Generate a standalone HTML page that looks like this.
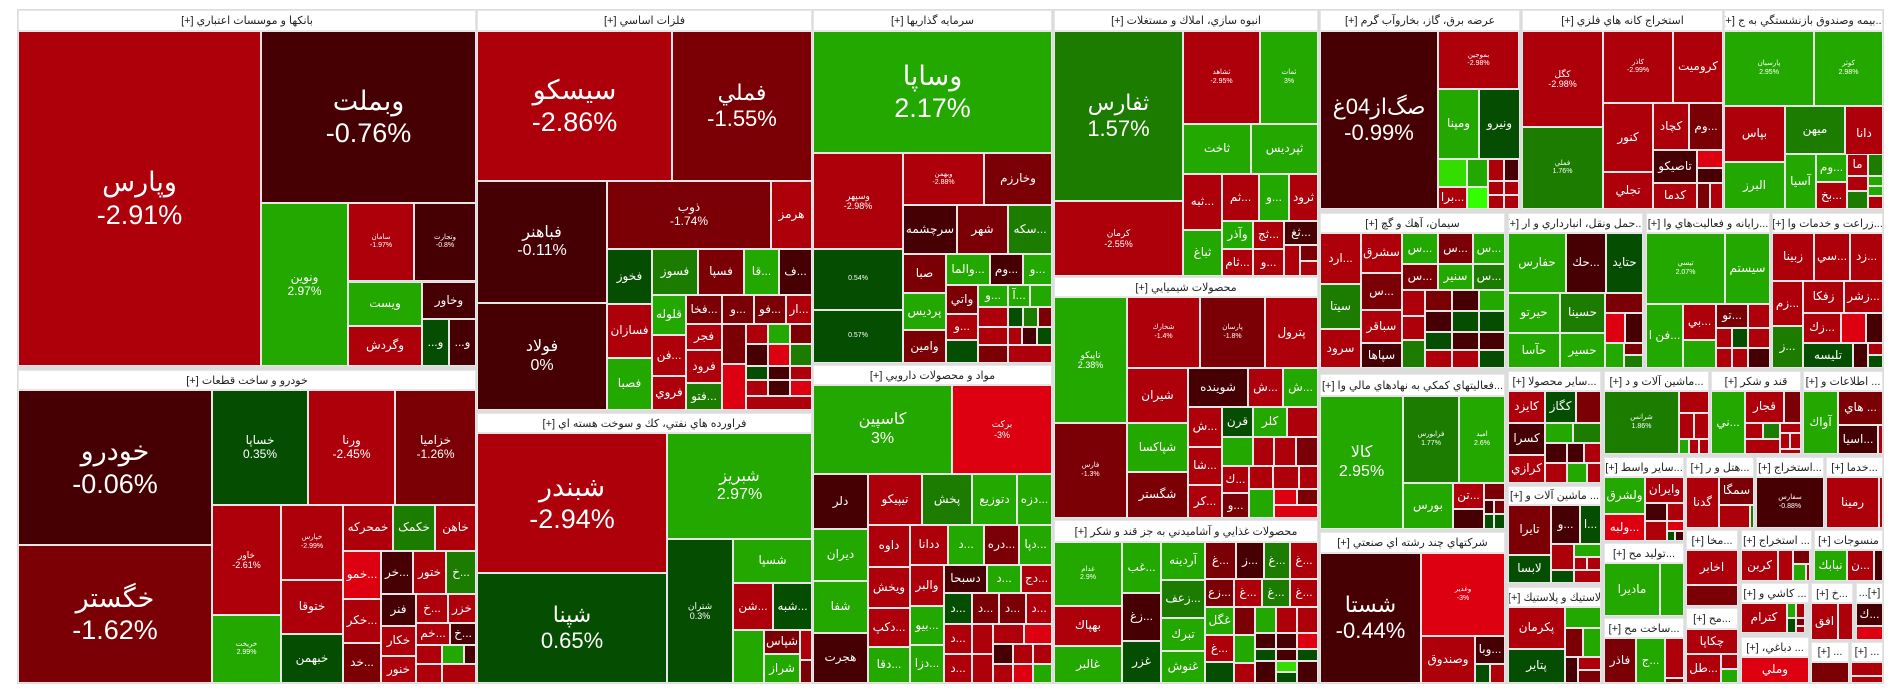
<!DOCTYPE html>
<html><head><meta charset="utf-8">
<style>
html,body{margin:0;padding:0;background:#fff;width:1904px;height:698px;overflow:hidden;font-family:"Liberation Sans","DejaVu Sans",sans-serif}
#w{position:absolute;left:17px;top:9px;width:1867px;height:675px;background:#dcdcdc}
.c{position:absolute;box-sizing:border-box;border:1px solid #e6e6e6;color:#fff;display:flex;flex-direction:column;align-items:center;justify-content:center;text-align:center;overflow:hidden;font-size:12px;line-height:1.15;direction:rtl;white-space:nowrap}
.h{position:absolute;box-sizing:border-box;background:#fff;color:#222;font-size:11px;display:flex;align-items:center;justify-content:center;direction:rtl;white-space:nowrap;overflow:hidden;border:1px solid #e6e6e6}
.r{background:#ad000b}.k{background:#7b0006}.x{background:#460003}.b{background:#dc0010}
.g{background:#23a800}.m{background:#1b7c00}.d{background:#054d00}.l{background:#33dd00}.L{background:#33ff00}
.f1{font-size:27px;line-height:1.2}.f2{font-size:22px;line-height:1.2}.f3{font-size:16px}.f5{font-size:7px}.f6{font-size:9px}
span{direction:ltr;unicode-bidi:isolate}
</style></head><body>
<div id="w"></div>
<!-- Banks -->
<div class="h" style="left:18px;top:10px;width:458px;height:21px">بانکها و موسسات اعتباري [+]</div>
<div class="c r f1" style="left:18px;top:31px;width:243px;height:335px">وپارس<span>-2.91%</span></div>
<div class="c x f1" style="left:261px;top:31px;width:215px;height:172px">وبملت<span>-0.76%</span></div>
<div class="c g" style="left:261px;top:203px;width:87px;height:163px">ونوین<span>2.97%</span></div>
<div class="c r f5" style="left:348px;top:203px;width:66px;height:78px">سامان<span>-1.97%</span></div>
<div class="c x f5" style="left:414px;top:203px;width:62px;height:78px">وتجارت<span>-0.8%</span></div>
<div class="c g" style="left:348px;top:282px;width:74px;height:44px">ویست</div>
<div class="c x" style="left:422px;top:282px;width:54px;height:37px">وخاور</div>
<div class="c r" style="left:348px;top:326px;width:74px;height:40px">وگردش</div>
<div class="c d" style="left:422px;top:319px;width:27px;height:47px">و...</div>
<div class="c x" style="left:449px;top:319px;width:27px;height:47px">و...</div>
<!-- Khodro -->
<div class="h" style="left:18px;top:370px;width:458px;height:20px">خودرو و ساخت قطعات [+]</div>
<div class="c x f1" style="left:18px;top:390px;width:194px;height:155px">خودرو<span>-0.06%</span></div>
<div class="c k f1" style="left:18px;top:545px;width:194px;height:138px">خگستر<span>-1.62%</span></div>
<div class="c d" style="left:212px;top:390px;width:96px;height:115px">خساپا<span>0.35%</span></div>
<div class="c r" style="left:308px;top:390px;width:87px;height:115px">ورنا<span>-2.45%</span></div>
<div class="c k" style="left:395px;top:390px;width:81px;height:115px">خزامیا<span>-1.26%</span></div>
<div class="c r f6" style="left:212px;top:505px;width:69px;height:110px">خاور<span>-2.61%</span></div>
<div class="c g f5" style="left:212px;top:615px;width:69px;height:68px">خریخت<span>2.99%</span></div>
<div class="c r f5" style="left:281px;top:505px;width:62px;height:75px">خپارس<span>-2.99%</span></div>
<div class="c r" style="left:281px;top:580px;width:62px;height:54px">ختوقا</div>
<div class="c d" style="left:281px;top:634px;width:62px;height:49px">خبهمن</div>
<div class="c r" style="left:343px;top:505px;width:50px;height:46px">خمحرکه</div>
<div class="c m" style="left:393px;top:505px;width:42px;height:46px">خکمک</div>
<div class="c r" style="left:435px;top:505px;width:41px;height:46px">خاهن</div>
<div class="c b" style="left:343px;top:551px;width:38px;height:48px">...خمو</div>
<div class="c x" style="left:381px;top:551px;width:32px;height:43px">...خر</div>
<div class="c r" style="left:413px;top:551px;width:33px;height:43px">ختور</div>
<div class="c m" style="left:446px;top:551px;width:30px;height:43px">...خ</div>
<div class="c r" style="left:343px;top:599px;width:38px;height:44px">...خکر</div>
<div class="c k" style="left:343px;top:643px;width:38px;height:40px">...خد</div>
<div class="c x" style="left:381px;top:594px;width:35px;height:32px">فنر</div>
<div class="c r" style="left:416px;top:594px;width:32px;height:29px">...خ</div>
<div class="c r" style="left:448px;top:594px;width:28px;height:29px">خزر</div>
<div class="c r" style="left:381px;top:626px;width:35px;height:30px">خکار</div>
<div class="c r" style="left:416px;top:623px;width:34px;height:22px">...خم</div>
<div class="c x" style="left:450px;top:623px;width:26px;height:22px">...خ</div>
<div class="c r" style="left:381px;top:656px;width:35px;height:27px">خنور</div>
<div class="c r" style="left:416px;top:645px;width:26px;height:19px"></div>
<div class="c g" style="left:442px;top:645px;width:22px;height:19px"></div>
<div class="c x" style="left:464px;top:645px;width:12px;height:19px"></div>
<div class="c r" style="left:416px;top:664px;width:26px;height:19px"></div>
<div class="c r" style="left:442px;top:664px;width:34px;height:19px"></div>
<!-- Metals -->
<div class="h" style="left:477px;top:10px;width:335px;height:21px">فلزات اساسي [+]</div>
<div class="c r f1" style="left:477px;top:31px;width:195px;height:150px">سیسکو<span>-2.86%</span></div>
<div class="c k f2" style="left:672px;top:31px;width:140px;height:150px">فملي<span>-1.55%</span></div>
<div class="c x f3" style="left:477px;top:181px;width:130px;height:122px">فباهنر<span>-0.11%</span></div>
<div class="c x f3" style="left:477px;top:303px;width:130px;height:107px">فولاد<span>0%</span></div>
<div class="c k" style="left:607px;top:181px;width:164px;height:68px">ذوب<span>-1.74%</span></div>
<div class="c r" style="left:771px;top:181px;width:41px;height:68px">هرمز</div>
<div class="c d" style="left:607px;top:249px;width:45px;height:55px">فخوز</div>
<div class="c m" style="left:652px;top:249px;width:46px;height:46px">فسوز</div>
<div class="c k" style="left:698px;top:249px;width:46px;height:46px">فسپا</div>
<div class="c g" style="left:744px;top:249px;width:35px;height:46px">...قا</div>
<div class="c x" style="left:779px;top:249px;width:33px;height:46px">...ف</div>
<div class="c r" style="left:607px;top:304px;width:45px;height:54px">فسازان</div>
<div class="c g" style="left:607px;top:358px;width:45px;height:52px">فصبا</div>
<div class="c g" style="left:652px;top:295px;width:34px;height:40px">قلوله</div>
<div class="c k" style="left:686px;top:295px;width:36px;height:29px">...فخا</div>
<div class="c k" style="left:722px;top:295px;width:32px;height:29px">...و</div>
<div class="c k" style="left:754px;top:295px;width:32px;height:29px">...فو</div>
<div class="c r" style="left:786px;top:295px;width:26px;height:29px">...ار</div>
<div class="c r" style="left:652px;top:335px;width:34px;height:41px">...فن</div>
<div class="c r" style="left:652px;top:376px;width:34px;height:34px">فروي</div>
<div class="c r" style="left:686px;top:324px;width:36px;height:26px">فجر</div>
<div class="c r" style="left:686px;top:350px;width:36px;height:33px">فرود</div>
<div class="c m" style="left:686px;top:383px;width:36px;height:27px">...فتو</div>
<div class="c k" style="left:722px;top:324px;width:24px;height:40px"></div>
<div class="c r" style="left:746px;top:324px;width:22px;height:20px"></div>
<div class="c g" style="left:768px;top:324px;width:22px;height:20px"></div>
<div class="c k" style="left:790px;top:324px;width:22px;height:20px"></div>
<div class="c x" style="left:746px;top:344px;width:22px;height:22px"></div>
<div class="c b" style="left:768px;top:344px;width:22px;height:22px"></div>
<div class="c m" style="left:790px;top:344px;width:22px;height:22px"></div>
<div class="c b" style="left:722px;top:364px;width:24px;height:46px"></div>
<div class="c d" style="left:746px;top:366px;width:22px;height:14px"></div>
<div class="c x" style="left:768px;top:366px;width:22px;height:14px"></div>
<div class="c r" style="left:790px;top:366px;width:22px;height:14px"></div>
<div class="c r" style="left:746px;top:380px;width:22px;height:16px"></div>
<div class="c x" style="left:768px;top:380px;width:22px;height:16px"></div>
<div class="c b" style="left:790px;top:380px;width:22px;height:16px"></div>
<div class="c r" style="left:746px;top:396px;width:66px;height:14px"></div>
<!-- Oil -->
<div class="h" style="left:477px;top:413px;width:335px;height:20px">فراورده هاي نفتي، كك و سوخت هسته اي [+]</div>
<div class="c r f1" style="left:477px;top:433px;width:190px;height:140px">شبندر<span>-2.94%</span></div>
<div class="c d f2" style="left:477px;top:573px;width:190px;height:110px">شپنا<span>0.65%</span></div>
<div class="c g f3" style="left:667px;top:433px;width:145px;height:106px">شبريز<span>2.97%</span></div>
<div class="c d f6" style="left:667px;top:539px;width:66px;height:144px">شتران<span>0.3%</span></div>
<div class="c g" style="left:733px;top:539px;width:79px;height:44px">شسپا</div>
<div class="c r" style="left:733px;top:583px;width:40px;height:47px">...شن</div>
<div class="c d" style="left:773px;top:583px;width:39px;height:47px">...شبه</div>
<div class="c g" style="left:733px;top:630px;width:31px;height:53px"></div>
<div class="c k" style="left:764px;top:630px;width:36px;height:24px">شپاس</div>
<div class="c g" style="left:764px;top:654px;width:36px;height:29px">شراز</div>
<div class="c r" style="left:800px;top:630px;width:12px;height:30px"></div>
<div class="c k" style="left:800px;top:660px;width:12px;height:23px"></div>
<!-- Investments -->
<div class="h" style="left:813px;top:10px;width:239px;height:21px">سرمايه گذاريها [+]</div>
<div class="c g f1" style="left:813px;top:31px;width:239px;height:122px">وساپا<span>2.17%</span></div>
<div class="c r f6" style="left:813px;top:153px;width:90px;height:96px">وسپهر<span>-2.98%</span></div>
<div class="c r f5" style="left:903px;top:153px;width:81px;height:52px">وبهمن<span>-2.88%</span></div>
<div class="c k" style="left:984px;top:153px;width:68px;height:52px">وخارزم</div>
<div class="c x" style="left:903px;top:205px;width:54px;height:49px">سرچشمه</div>
<div class="c k" style="left:957px;top:205px;width:51px;height:49px">شهر</div>
<div class="c m" style="left:1008px;top:205px;width:44px;height:49px">...سكه</div>
<div class="c d f5" style="left:813px;top:249px;width:90px;height:61px">0.54%</div>
<div class="c d f5" style="left:813px;top:310px;width:90px;height:53px">0.57%</div>
<div class="c k" style="left:903px;top:254px;width:43px;height:39px">صبا</div>
<div class="c g" style="left:946px;top:254px;width:44px;height:31px">...والما</div>
<div class="c x" style="left:990px;top:254px;width:33px;height:31px">...وم</div>
<div class="c g" style="left:1023px;top:254px;width:29px;height:31px">...و</div>
<div class="c g" style="left:903px;top:293px;width:43px;height:37px">پرديس</div>
<div class="c k" style="left:946px;top:285px;width:32px;height:29px">واتي</div>
<div class="c g" style="left:978px;top:285px;width:30px;height:22px">...و</div>
<div class="c g" style="left:1008px;top:285px;width:22px;height:22px">...آ</div>
<div class="c g" style="left:1030px;top:285px;width:22px;height:22px"></div>
<div class="c r" style="left:946px;top:314px;width:32px;height:26px">...و</div>
<div class="c k" style="left:903px;top:330px;width:43px;height:33px">وامين</div>
<div class="c r" style="left:978px;top:307px;width:30px;height:20px"></div>
<div class="c d" style="left:1008px;top:307px;width:15px;height:20px"></div>
<div class="c m" style="left:1023px;top:307px;width:15px;height:20px"></div>
<div class="c k" style="left:1038px;top:307px;width:14px;height:20px"></div>
<div class="c r" style="left:978px;top:327px;width:30px;height:18px"></div>
<div class="c r" style="left:1008px;top:327px;width:14px;height:18px"></div>
<div class="c x" style="left:1022px;top:327px;width:15px;height:18px"></div>
<div class="c d" style="left:1037px;top:327px;width:15px;height:18px"></div>
<div class="c d" style="left:946px;top:340px;width:32px;height:23px"></div>
<div class="c k" style="left:978px;top:345px;width:30px;height:18px"></div>
<div class="c r" style="left:1008px;top:345px;width:44px;height:18px"></div>
<!-- Pharma -->
<div class="h" style="left:813px;top:365px;width:239px;height:20px">مواد و محصولات دارويي [+]</div>
<div class="c g f3" style="left:813px;top:385px;width:139px;height:89px">كاسپين<span>3%</span></div>
<div class="c b f6" style="left:952px;top:385px;width:100px;height:89px">بركت<span>-3%</span></div>
<div class="c x" style="left:813px;top:474px;width:55px;height:55px">دلر</div>
<div class="c r" style="left:868px;top:474px;width:54px;height:51px">تيپيكو</div>
<div class="c m" style="left:922px;top:474px;width:50px;height:51px">پخش</div>
<div class="c g" style="left:972px;top:474px;width:45px;height:51px">دتوزيع</div>
<div class="c g" style="left:1017px;top:474px;width:35px;height:51px">...دزه</div>
<div class="c g" style="left:813px;top:529px;width:55px;height:52px">ديران</div>
<div class="c g" style="left:813px;top:581px;width:55px;height:52px">شفا</div>
<div class="c x" style="left:813px;top:633px;width:55px;height:50px">هجرت</div>
<div class="c r" style="left:868px;top:525px;width:42px;height:42px">داوه</div>
<div class="c r" style="left:910px;top:525px;width:38px;height:40px">ددانا</div>
<div class="c g" style="left:948px;top:525px;width:36px;height:40px">...د</div>
<div class="c k" style="left:984px;top:525px;width:35px;height:40px">...دره</div>
<div class="c g" style="left:1019px;top:525px;width:33px;height:40px">...دپا</div>
<div class="c r" style="left:868px;top:567px;width:42px;height:41px">ويخش</div>
<div class="c r" style="left:910px;top:565px;width:34px;height:41px">والبر</div>
<div class="c x" style="left:944px;top:565px;width:43px;height:28px">دسبحا</div>
<div class="c g" style="left:987px;top:565px;width:34px;height:28px">...د</div>
<div class="c r" style="left:1021px;top:565px;width:31px;height:28px">...دج</div>
<div class="c r" style="left:868px;top:608px;width:42px;height:39px">...دكپ</div>
<div class="c g" style="left:910px;top:606px;width:34px;height:39px">...بيو</div>
<div class="c g" style="left:868px;top:647px;width:42px;height:36px">...دقا</div>
<div class="c g" style="left:910px;top:645px;width:34px;height:38px">...دزا</div>
<div class="c d" style="left:944px;top:593px;width:28px;height:31px">...د</div>
<div class="c k" style="left:972px;top:593px;width:27px;height:31px">...د</div>
<div class="c k" style="left:999px;top:593px;width:27px;height:31px">...د</div>
<div class="c r" style="left:1026px;top:593px;width:26px;height:31px">...د</div>
<div class="c r" style="left:944px;top:624px;width:28px;height:30px">...د</div>
<div class="c r" style="left:944px;top:654px;width:28px;height:29px">...د</div>
<div class="c r" style="left:972px;top:624px;width:21px;height:30px"></div>
<div class="c r" style="left:993px;top:624px;width:31px;height:20px"></div>
<div class="c b" style="left:1024px;top:624px;width:28px;height:20px"></div>
<div class="c r" style="left:972px;top:654px;width:21px;height:29px"></div>
<div class="c x" style="left:993px;top:644px;width:20px;height:20px"></div>
<div class="c r" style="left:1013px;top:644px;width:20px;height:20px"></div>
<div class="c r" style="left:1033px;top:644px;width:19px;height:20px"></div>
<div class="c r" style="left:993px;top:664px;width:20px;height:19px"></div>
<div class="c b" style="left:1013px;top:664px;width:20px;height:19px"></div>
<div class="c g" style="left:1033px;top:664px;width:19px;height:19px"></div>
<!-- Construction -->
<div class="h" style="left:1054px;top:10px;width:264px;height:21px">انبوه سازي، املاك و مستغلات [+]</div>
<div class="c m f2" style="left:1054px;top:31px;width:129px;height:170px">ثفارس<span>1.57%</span></div>
<div class="c r f5" style="left:1183px;top:31px;width:77px;height:93px">ثشاهد<span>-2.95%</span></div>
<div class="c g f5" style="left:1260px;top:31px;width:58px;height:93px">ثمات<span>3%</span></div>
<div class="c g" style="left:1183px;top:124px;width:68px;height:50px">ثاخت</div>
<div class="c g" style="left:1251px;top:124px;width:67px;height:50px">ثپرديس</div>
<div class="c r f6" style="left:1054px;top:201px;width:129px;height:75px">كرمان<span>-2.55%</span></div>
<div class="c r" style="left:1183px;top:174px;width:39px;height:56px">...ثبه</div>
<div class="c r" style="left:1222px;top:174px;width:37px;height:47px">...ثم</div>
<div class="c g" style="left:1259px;top:174px;width:30px;height:47px">...و</div>
<div class="c r" style="left:1289px;top:174px;width:29px;height:47px">ثرود</div>
<div class="c g" style="left:1183px;top:230px;width:39px;height:46px">ثباغ</div>
<div class="c g" style="left:1222px;top:221px;width:31px;height:28px">وآذر</div>
<div class="c r" style="left:1253px;top:221px;width:31px;height:28px">...ثج</div>
<div class="c x" style="left:1284px;top:221px;width:34px;height:24px">...ثغ</div>
<div class="c r" style="left:1222px;top:249px;width:31px;height:27px">...ثام</div>
<div class="c r" style="left:1253px;top:249px;width:31px;height:27px">...و</div>
<div class="c r" style="left:1284px;top:245px;width:16px;height:31px"></div>
<div class="c k" style="left:1300px;top:245px;width:18px;height:16px"></div>
<div class="c r" style="left:1300px;top:261px;width:18px;height:15px"></div>
<!-- Chemicals -->
<div class="h" style="left:1054px;top:277px;width:264px;height:20px">محصولات شيميايي [+]</div>
<div class="c g f6" style="left:1054px;top:297px;width:73px;height:126px">تاپيكو<span>2.38%</span></div>
<div class="c r f5" style="left:1127px;top:297px;width:73px;height:71px">شخارك<span>-1.4%</span></div>
<div class="c k f5" style="left:1200px;top:297px;width:65px;height:71px">پارسان<span>-1.8%</span></div>
<div class="c r" style="left:1265px;top:297px;width:53px;height:71px">پترول</div>
<div class="c r" style="left:1127px;top:368px;width:61px;height:55px">شيران</div>
<div class="c x" style="left:1188px;top:368px;width:60px;height:39px">شوينده</div>
<div class="c r" style="left:1248px;top:368px;width:35px;height:39px">...ش</div>
<div class="c g" style="left:1283px;top:368px;width:35px;height:39px">...ش</div>
<div class="c k f5" style="left:1054px;top:423px;width:73px;height:95px">فارس<span>-1.3%</span></div>
<div class="c g" style="left:1127px;top:423px;width:61px;height:49px">شپاكسا</div>
<div class="c k" style="left:1127px;top:472px;width:61px;height:46px">شگستر</div>
<div class="c r" style="left:1188px;top:407px;width:34px;height:40px">...ش</div>
<div class="c d" style="left:1222px;top:407px;width:31px;height:30px">قرن</div>
<div class="c g" style="left:1253px;top:407px;width:34px;height:30px">كلر</div>
<div class="c r" style="left:1287px;top:407px;width:31px;height:30px"></div>
<div class="c r" style="left:1188px;top:447px;width:34px;height:38px">...شا</div>
<div class="c r" style="left:1188px;top:485px;width:34px;height:33px">...كر</div>
<div class="c g" style="left:1222px;top:437px;width:31px;height:29px"></div>
<div class="c r" style="left:1253px;top:437px;width:21px;height:29px"></div>
<div class="c r" style="left:1274px;top:437px;width:22px;height:29px"></div>
<div class="c k" style="left:1296px;top:437px;width:22px;height:29px"></div>
<div class="c r" style="left:1222px;top:466px;width:27px;height:27px">...ك</div>
<div class="c r" style="left:1249px;top:466px;width:24px;height:23px"></div>
<div class="c r" style="left:1273px;top:466px;width:26px;height:23px"></div>
<div class="c r" style="left:1299px;top:466px;width:19px;height:23px"></div>
<div class="c k" style="left:1222px;top:493px;width:27px;height:25px">...و</div>
<div class="c g" style="left:1249px;top:489px;width:25px;height:29px"></div>
<div class="c b" style="left:1274px;top:489px;width:23px;height:16px"></div>
<div class="c k" style="left:1297px;top:489px;width:21px;height:16px"></div>
<div class="c b" style="left:1274px;top:505px;width:44px;height:13px"></div>
<!-- Food -->
<div class="h" style="left:1054px;top:520px;width:264px;height:22px">محصولات غذايي و آشاميدني به جز قند و شكر [+]</div>
<div class="c g f5" style="left:1054px;top:542px;width:68px;height:64px">غدام<span>2.9%</span></div>
<div class="c r" style="left:1054px;top:606px;width:68px;height:40px">بهپاك</div>
<div class="c g" style="left:1054px;top:646px;width:68px;height:37px">غالبر</div>
<div class="c g" style="left:1122px;top:542px;width:39px;height:51px">...غب</div>
<div class="c x" style="left:1122px;top:593px;width:39px;height:48px">...زغ</div>
<div class="c d" style="left:1122px;top:641px;width:39px;height:42px">غزر</div>
<div class="c g" style="left:1161px;top:542px;width:44px;height:38px">آردينه</div>
<div class="c m" style="left:1161px;top:580px;width:44px;height:38px">...زعف</div>
<div class="c g" style="left:1161px;top:618px;width:44px;height:33px">تبرك</div>
<div class="c g" style="left:1161px;top:651px;width:44px;height:32px">غنوش</div>
<div class="c k" style="left:1205px;top:542px;width:31px;height:37px">...غ</div>
<div class="c x" style="left:1236px;top:542px;width:28px;height:37px">...ز</div>
<div class="c m" style="left:1264px;top:542px;width:26px;height:37px">...غ</div>
<div class="c r" style="left:1290px;top:542px;width:28px;height:37px">...غ</div>
<div class="c k" style="left:1205px;top:579px;width:29px;height:28px">...زع</div>
<div class="c r" style="left:1234px;top:579px;width:28px;height:28px">...غ</div>
<div class="c m" style="left:1262px;top:579px;width:28px;height:28px">...غ</div>
<div class="c r" style="left:1290px;top:579px;width:28px;height:28px">...غ</div>
<div class="c g" style="left:1205px;top:607px;width:29px;height:28px">غگل</div>
<div class="c r" style="left:1205px;top:635px;width:29px;height:27px">...غ</div>
<div class="c d" style="left:1205px;top:662px;width:29px;height:21px"></div>
<div class="c k" style="left:1234px;top:607px;width:21px;height:28px"></div>
<div class="c g" style="left:1255px;top:607px;width:21px;height:26px"></div>
<div class="c r" style="left:1276px;top:607px;width:21px;height:26px"></div>
<div class="c r" style="left:1297px;top:607px;width:21px;height:26px"></div>
<div class="c g" style="left:1234px;top:635px;width:21px;height:28px"></div>
<div class="c x" style="left:1255px;top:633px;width:21px;height:16px"></div>
<div class="c x" style="left:1276px;top:633px;width:21px;height:16px"></div>
<div class="c b" style="left:1297px;top:633px;width:21px;height:16px"></div>
<div class="c d" style="left:1255px;top:649px;width:21px;height:12px"></div>
<div class="c x" style="left:1276px;top:649px;width:21px;height:12px"></div>
<div class="c d" style="left:1297px;top:649px;width:21px;height:12px"></div>
<div class="c r" style="left:1234px;top:663px;width:21px;height:20px"></div>
<div class="c x" style="left:1255px;top:661px;width:21px;height:22px"></div>
<div class="c l" style="left:1276px;top:661px;width:21px;height:11px"></div>
<div class="c d" style="left:1276px;top:672px;width:21px;height:11px"></div>
<div class="c x" style="left:1297px;top:661px;width:21px;height:22px"></div>
<!-- Energy -->
<div class="h" style="left:1320px;top:10px;width:200px;height:21px">عرضه برق، گاز، بخاروآب گرم [+]</div>
<div class="c x f2" style="left:1320px;top:31px;width:118px;height:178px">صگ‌از04غ<span>-0.99%</span></div>
<div class="c r f5" style="left:1438px;top:31px;width:81px;height:58px">بموجين<span>-2.98%</span></div>
<div class="c g" style="left:1438px;top:89px;width:41px;height:70px">ومپنا</div>
<div class="c d" style="left:1479px;top:89px;width:41px;height:70px">ونيرو</div>
<div class="c l" style="left:1438px;top:159px;width:29px;height:28px"></div>
<div class="c g" style="left:1467px;top:159px;width:21px;height:28px"></div>
<div class="c r" style="left:1488px;top:159px;width:16px;height:22px"></div>
<div class="c x" style="left:1504px;top:159px;width:15px;height:22px"></div>
<div class="c r" style="left:1438px;top:187px;width:29px;height:22px">...برا</div>
<div class="c L" style="left:1467px;top:187px;width:21px;height:22px"></div>
<div class="c r" style="left:1488px;top:181px;width:16px;height:14px"></div>
<div class="c r" style="left:1504px;top:181px;width:15px;height:14px"></div>
<div class="c r" style="left:1488px;top:195px;width:16px;height:14px"></div>
<div class="c r" style="left:1504px;top:195px;width:15px;height:14px"></div>
<!-- Extraction -->
<div class="h" style="left:1522px;top:10px;width:201px;height:21px">استخراج كانه هاي فلزي [+]</div>
<div class="c r f6" style="left:1522px;top:31px;width:81px;height:96px">كگل<span>-2.98%</span></div>
<div class="c m f5" style="left:1522px;top:127px;width:81px;height:82px">فملي<span>1.76%</span></div>
<div class="c r f5" style="left:1603px;top:31px;width:70px;height:72px">كاذر<span>-2.99%</span></div>
<div class="c r" style="left:1673px;top:31px;width:50px;height:72px">كروميت</div>
<div class="c r" style="left:1603px;top:103px;width:50px;height:69px">كنور</div>
<div class="c r" style="left:1653px;top:103px;width:36px;height:47px">كچاد</div>
<div class="c k" style="left:1689px;top:103px;width:34px;height:47px">...وم</div>
<div class="c x" style="left:1653px;top:150px;width:44px;height:33px">تاصيكو</div>
<div class="c b" style="left:1697px;top:150px;width:26px;height:18px"></div>
<div class="c x" style="left:1697px;top:168px;width:26px;height:15px"></div>
<div class="c r" style="left:1603px;top:172px;width:50px;height:37px">تجلي</div>
<div class="c r" style="left:1653px;top:183px;width:44px;height:26px">كدما</div>
<div class="c k" style="left:1697px;top:183px;width:13px;height:26px"></div>
<div class="c r" style="left:1710px;top:183px;width:13px;height:26px"></div>
<!-- Bime -->
<div class="h" style="left:1724px;top:10px;width:159px;height:21px">...بيمه وصندوق بازنشستگي به ج [+]</div>
<div class="c g f5" style="left:1724px;top:31px;width:90px;height:75px">پارسيان<span>2.95%</span></div>
<div class="c g f5" style="left:1814px;top:31px;width:69px;height:75px">كوثر<span>2.98%</span></div>
<div class="c r" style="left:1724px;top:106px;width:61px;height:56px">بپاس</div>
<div class="c m" style="left:1785px;top:106px;width:60px;height:48px">ميهن</div>
<div class="c r" style="left:1845px;top:106px;width:38px;height:56px">دانا</div>
<div class="c g" style="left:1724px;top:162px;width:61px;height:47px">البرز</div>
<div class="c g" style="left:1785px;top:154px;width:31px;height:55px">آسيا</div>
<div class="c g" style="left:1816px;top:154px;width:31px;height:28px">...وم</div>
<div class="c r" style="left:1816px;top:182px;width:31px;height:27px">...بخ</div>
<div class="c r" style="left:1847px;top:154px;width:21px;height:22px">ما</div>
<div class="c m" style="left:1868px;top:154px;width:15px;height:22px"></div>
<div class="c r" style="left:1847px;top:176px;width:21px;height:15px"></div>
<div class="c g" style="left:1868px;top:176px;width:15px;height:10px"></div>
<div class="c g" style="left:1868px;top:186px;width:15px;height:10px"></div>
<div class="c m" style="left:1847px;top:191px;width:21px;height:18px"></div>
<div class="c r" style="left:1868px;top:196px;width:15px;height:13px"></div>
<!-- Cement -->
<div class="h" style="left:1320px;top:213px;width:185px;height:20px">سيمان، آهك و گچ [+]</div>
<div class="c r" style="left:1320px;top:233px;width:41px;height:51px">...ارد</div>
<div class="c r" style="left:1361px;top:233px;width:41px;height:40px">سشرق</div>
<div class="c g" style="left:1402px;top:233px;width:36px;height:31px">...س</div>
<div class="c k" style="left:1438px;top:233px;width:35px;height:31px">...س</div>
<div class="c g" style="left:1473px;top:233px;width:32px;height:31px">...س</div>
<div class="c k" style="left:1402px;top:264px;width:36px;height:26px">...س</div>
<div class="c g" style="left:1438px;top:264px;width:35px;height:26px">سنير</div>
<div class="c m" style="left:1473px;top:264px;width:32px;height:26px">...س</div>
<div class="c m" style="left:1320px;top:284px;width:41px;height:45px">سيتا</div>
<div class="c k" style="left:1361px;top:273px;width:41px;height:37px">...س</div>
<div class="c r" style="left:1361px;top:310px;width:41px;height:33px">سباقر</div>
<div class="c r" style="left:1320px;top:329px;width:41px;height:39px">سرود</div>
<div class="c x" style="left:1361px;top:343px;width:41px;height:25px">سپاها</div>
<div class="c r" style="left:1402px;top:290px;width:23px;height:26px"></div>
<div class="c k" style="left:1425px;top:290px;width:27px;height:21px"></div>
<div class="c x" style="left:1452px;top:290px;width:27px;height:21px"></div>
<div class="c g" style="left:1479px;top:290px;width:26px;height:21px"></div>
<div class="c r" style="left:1402px;top:316px;width:23px;height:24px"></div>
<div class="c x" style="left:1425px;top:311px;width:27px;height:21px"></div>
<div class="c d" style="left:1452px;top:311px;width:27px;height:21px"></div>
<div class="c d" style="left:1479px;top:311px;width:26px;height:21px"></div>
<div class="c m" style="left:1402px;top:340px;width:23px;height:28px"></div>
<div class="c d" style="left:1425px;top:332px;width:27px;height:18px"></div>
<div class="c x" style="left:1452px;top:332px;width:27px;height:18px"></div>
<div class="c x" style="left:1479px;top:332px;width:26px;height:18px"></div>
<div class="c r" style="left:1425px;top:350px;width:27px;height:18px"></div>
<div class="c r" style="left:1452px;top:350px;width:27px;height:18px"></div>
<div class="c d" style="left:1479px;top:350px;width:26px;height:18px"></div>
<!-- Faaliat -->
<div class="h" style="left:1320px;top:374px;width:185px;height:22px">...فعاليتهاي كمكي به نهادهاي مالي وا [+]</div>
<div class="c g f3" style="left:1320px;top:396px;width:83px;height:133px">كالا<span>2.95%</span></div>
<div class="c m f5" style="left:1403px;top:396px;width:56px;height:87px">فرابورس<span>1.77%</span></div>
<div class="c g f5" style="left:1459px;top:396px;width:46px;height:87px">اميد<span>2.6%</span></div>
<div class="c g" style="left:1403px;top:483px;width:50px;height:46px">بورس</div>
<div class="c r" style="left:1453px;top:483px;width:31px;height:26px">...تن</div>
<div class="c k" style="left:1484px;top:483px;width:21px;height:17px"></div>
<div class="c x" style="left:1484px;top:500px;width:10px;height:14px"></div>
<div class="c k" style="left:1494px;top:500px;width:11px;height:14px"></div>
<div class="c x" style="left:1453px;top:509px;width:31px;height:20px"></div>
<div class="c d" style="left:1484px;top:514px;width:10px;height:15px"></div>
<div class="c d" style="left:1494px;top:514px;width:11px;height:15px"></div>
<!-- Chand -->
<div class="h" style="left:1320px;top:532px;width:185px;height:21px">شركتهاي چند رشته اي صنعتي [+]</div>
<div class="c x f2" style="left:1320px;top:553px;width:101px;height:130px">شستا<span>-0.44%</span></div>
<div class="c b f5" style="left:1421px;top:553px;width:84px;height:83px">وغدير<span>-3%</span></div>
<div class="c r" style="left:1421px;top:636px;width:54px;height:47px">وصندوق</div>
<div class="c x" style="left:1475px;top:636px;width:30px;height:28px">...وبا</div>
<div class="c d" style="left:1475px;top:664px;width:15px;height:19px"></div>
<div class="c r" style="left:1490px;top:664px;width:15px;height:19px"></div>
<!-- Haml -->
<div class="h" style="left:1508px;top:213px;width:135px;height:20px">...حمل ونقل، انبارداري و ار [+]</div>
<div class="c g" style="left:1508px;top:233px;width:58px;height:60px">حفارس</div>
<div class="c x" style="left:1566px;top:233px;width:40px;height:60px">...حك</div>
<div class="c d" style="left:1606px;top:233px;width:37px;height:60px">حتايد</div>
<div class="c g" style="left:1508px;top:293px;width:52px;height:40px">حيرتو</div>
<div class="c m" style="left:1560px;top:293px;width:45px;height:40px">حسينا</div>
<div class="c k" style="left:1605px;top:293px;width:38px;height:20px"></div>
<div class="c b" style="left:1605px;top:313px;width:20px;height:30px"></div>
<div class="c x" style="left:1625px;top:313px;width:18px;height:30px"></div>
<div class="c g" style="left:1508px;top:333px;width:52px;height:35px">حآسا</div>
<div class="c g" style="left:1560px;top:333px;width:45px;height:35px">حسير</div>
<div class="c g" style="left:1605px;top:343px;width:19px;height:25px"></div>
<div class="c k" style="left:1624px;top:343px;width:19px;height:12px"></div>
<div class="c m" style="left:1624px;top:355px;width:19px;height:13px"></div>
<!-- Rayane -->
<div class="h" style="left:1646px;top:213px;width:124px;height:20px">...رايانه و فعاليت‌هاي وا [+]</div>
<div class="c g f5" style="left:1646px;top:233px;width:79px;height:71px">تيسي<span>2.07%</span></div>
<div class="c g" style="left:1725px;top:233px;width:45px;height:71px">سيستم</div>
<div class="c g" style="left:1646px;top:304px;width:37px;height:64px">...فن ا</div>
<div class="c r" style="left:1683px;top:304px;width:33px;height:36px">...بي</div>
<div class="c k" style="left:1716px;top:304px;width:32px;height:24px">...تو</div>
<div class="c r" style="left:1748px;top:304px;width:22px;height:24px"></div>
<div class="c r" style="left:1716px;top:328px;width:16px;height:20px"></div>
<div class="c d" style="left:1732px;top:328px;width:16px;height:20px"></div>
<div class="c r" style="left:1748px;top:328px;width:22px;height:20px"></div>
<div class="c g" style="left:1683px;top:340px;width:33px;height:28px"></div>
<div class="c r" style="left:1716px;top:348px;width:16px;height:20px"></div>
<div class="c r" style="left:1732px;top:348px;width:16px;height:20px"></div>
<div class="c x" style="left:1748px;top:348px;width:22px;height:20px"></div>
<!-- Zeraat -->
<div class="h" style="left:1772px;top:213px;width:111px;height:20px">...زراعت و خدمات وا [+]</div>
<div class="c r" style="left:1772px;top:233px;width:42px;height:48px">زبينا</div>
<div class="c r" style="left:1814px;top:233px;width:36px;height:48px">...سي</div>
<div class="c r" style="left:1850px;top:233px;width:33px;height:48px">...زد</div>
<div class="c r" style="left:1772px;top:281px;width:31px;height:45px">...زم</div>
<div class="c r" style="left:1803px;top:281px;width:41px;height:32px">زفكا</div>
<div class="c r" style="left:1844px;top:281px;width:39px;height:32px">...زشر</div>
<div class="c r" style="left:1803px;top:313px;width:38px;height:30px">...زك</div>
<div class="c b" style="left:1841px;top:313px;width:25px;height:30px"></div>
<div class="c x" style="left:1866px;top:313px;width:17px;height:30px"></div>
<div class="c m" style="left:1772px;top:326px;width:31px;height:42px">...ز</div>
<div class="c d" style="left:1803px;top:343px;width:50px;height:25px">تليسه</div>
<div class="c x" style="left:1853px;top:343px;width:15px;height:25px"></div>
<div class="c r" style="left:1868px;top:343px;width:15px;height:12px"></div>
<div class="c d" style="left:1868px;top:355px;width:15px;height:13px"></div>
<!-- Sayer mahsula -->
<div class="h" style="left:1508px;top:371px;width:93px;height:20px">...ساير محصولا [+]</div>
<div class="c r" style="left:1508px;top:391px;width:37px;height:32px">كايزد</div>
<div class="c d" style="left:1545px;top:391px;width:31px;height:32px">كگاز</div>
<div class="c k" style="left:1576px;top:391px;width:25px;height:32px"></div>
<div class="c x" style="left:1508px;top:423px;width:37px;height:32px">كسرا</div>
<div class="c g" style="left:1545px;top:423px;width:28px;height:20px"></div>
<div class="c m" style="left:1573px;top:423px;width:28px;height:20px"></div>
<div class="c r" style="left:1508px;top:455px;width:37px;height:28px">كرازي</div>
<div class="c x" style="left:1545px;top:443px;width:22px;height:20px"></div>
<div class="c x" style="left:1567px;top:443px;width:17px;height:20px"></div>
<div class="c r" style="left:1584px;top:443px;width:17px;height:20px"></div>
<div class="c r" style="left:1545px;top:463px;width:22px;height:20px"></div>
<div class="c g" style="left:1567px;top:463px;width:20px;height:20px"></div>
<div class="c r" style="left:1587px;top:463px;width:14px;height:20px"></div>
<!-- Mashin -->
<div class="h" style="left:1508px;top:486px;width:93px;height:19px">... ماشين آلات و [+]</div>
<div class="c k" style="left:1508px;top:505px;width:43px;height:50px">تايرا</div>
<div class="c x" style="left:1551px;top:505px;width:29px;height:39px">...و</div>
<div class="c d" style="left:1580px;top:505px;width:21px;height:39px">...ا</div>
<div class="c d" style="left:1508px;top:555px;width:43px;height:28px">لابسا</div>
<div class="c r" style="left:1551px;top:544px;width:23px;height:26px"></div>
<div class="c g" style="left:1574px;top:544px;width:27px;height:13px"></div>
<div class="c r" style="left:1574px;top:557px;width:13px;height:13px"></div>
<div class="c r" style="left:1587px;top:557px;width:14px;height:13px"></div>
<div class="c d" style="left:1551px;top:570px;width:23px;height:13px"></div>
<div class="c r" style="left:1574px;top:570px;width:27px;height:13px"></div>
<!-- Lastik -->
<div class="h" style="left:1508px;top:587px;width:93px;height:20px">لاستيك و پلاستيك [+]</div>
<div class="c r" style="left:1508px;top:607px;width:57px;height:42px">پكرمان</div>
<div class="c d" style="left:1508px;top:649px;width:57px;height:34px">پتاير</div>
<div class="c g" style="left:1565px;top:607px;width:36px;height:21px"></div>
<div class="c k" style="left:1565px;top:628px;width:18px;height:29px"></div>
<div class="c g" style="left:1583px;top:628px;width:18px;height:29px"></div>
<div class="c x" style="left:1565px;top:657px;width:13px;height:26px"></div>
<div class="c r" style="left:1578px;top:657px;width:23px;height:13px"></div>
<div class="c k" style="left:1578px;top:670px;width:23px;height:13px"></div>
<!-- Mashin d -->
<div class="h" style="left:1604px;top:371px;width:105px;height:20px">...ماشين آلات و د [+]</div>
<div class="c m f5" style="left:1604px;top:391px;width:75px;height:63px">شرانس<span>1.86%</span></div>
<div class="c r" style="left:1679px;top:391px;width:30px;height:22px"></div>
<div class="c r" style="left:1679px;top:413px;width:15px;height:26px"></div>
<div class="c r" style="left:1694px;top:413px;width:15px;height:26px"></div>
<div class="c g" style="left:1679px;top:439px;width:10px;height:15px"></div>
<div class="c r" style="left:1689px;top:439px;width:10px;height:15px"></div>
<div class="c r" style="left:1699px;top:439px;width:10px;height:15px"></div>
<!-- Sayer vaset -->
<div class="h" style="left:1604px;top:457px;width:80px;height:20px">...ساير واسط [+]</div>
<div class="c g" style="left:1604px;top:477px;width:41px;height:37px">ولشرق</div>
<div class="c r" style="left:1645px;top:477px;width:39px;height:26px">وايران</div>
<div class="c b" style="left:1604px;top:514px;width:41px;height:27px">...ولبه</div>
<div class="c x" style="left:1645px;top:503px;width:22px;height:18px"></div>
<div class="c r" style="left:1667px;top:503px;width:17px;height:18px"></div>
<div class="c r" style="left:1645px;top:521px;width:22px;height:20px"></div>
<div class="c b" style="left:1667px;top:521px;width:17px;height:10px"></div>
<div class="c d" style="left:1667px;top:531px;width:8px;height:10px"></div>
<div class="c x" style="left:1675px;top:531px;width:9px;height:10px"></div>
<!-- Tolid -->
<div class="h" style="left:1604px;top:543px;width:80px;height:20px">...توليد مح [+]</div>
<div class="c g" style="left:1604px;top:563px;width:56px;height:53px">ماديرا</div>
<div class="c g" style="left:1660px;top:563px;width:24px;height:53px"></div>
<!-- Sakht -->
<div class="h" style="left:1604px;top:618px;width:80px;height:20px">...ساخت مح [+]</div>
<div class="c k" style="left:1604px;top:638px;width:32px;height:45px">فاذر</div>
<div class="c g" style="left:1636px;top:638px;width:29px;height:45px">...ج</div>
<div class="c r" style="left:1665px;top:638px;width:19px;height:40px"></div>
<div class="c k" style="left:1665px;top:678px;width:19px;height:5px"></div>
<!-- Qand -->
<div class="h" style="left:1711px;top:371px;width:90px;height:20px">قند و شكر [+]</div>
<div class="c g" style="left:1711px;top:391px;width:34px;height:63px">...ني</div>
<div class="c r" style="left:1745px;top:391px;width:39px;height:32px">قجار</div>
<div class="c k" style="left:1784px;top:391px;width:17px;height:32px"></div>
<div class="c r" style="left:1745px;top:423px;width:18px;height:16px"></div>
<div class="c m" style="left:1763px;top:423px;width:17px;height:16px"></div>
<div class="c r" style="left:1780px;top:423px;width:21px;height:10px"></div>
<div class="c r" style="left:1780px;top:433px;width:10px;height:16px"></div>
<div class="c r" style="left:1790px;top:433px;width:11px;height:16px"></div>
<div class="c r" style="left:1745px;top:439px;width:35px;height:15px"></div>
<div class="c r" style="left:1780px;top:449px;width:21px;height:5px"></div>
<!-- Etelaat -->
<div class="h" style="left:1803px;top:371px;width:80px;height:20px">... اطلاعات و [+]</div>
<div class="c g" style="left:1803px;top:391px;width:35px;height:63px">آواك</div>
<div class="c k" style="left:1838px;top:391px;width:45px;height:34px">... هاي</div>
<div class="c x" style="left:1838px;top:425px;width:40px;height:29px">...اسيا</div>
<div class="c r" style="left:1878px;top:425px;width:5px;height:29px"></div>
<!-- Hotel -->
<div class="h" style="left:1686px;top:457px;width:68px;height:20px">...هتل و ر [+]</div>
<div class="c r" style="left:1686px;top:477px;width:33px;height:51px">گدنا</div>
<div class="c k" style="left:1719px;top:477px;width:35px;height:28px">سمگا</div>
<div class="c r" style="left:1719px;top:505px;width:31px;height:23px"></div>
<div class="c m" style="left:1750px;top:505px;width:4px;height:23px"></div>
<!-- Estekhraj2 -->
<div class="h" style="left:1756px;top:457px;width:68px;height:20px">...استخراج [+]</div>
<div class="c x f5" style="left:1756px;top:477px;width:68px;height:51px">سفارس<span>-0.88%</span></div>
<!-- Khadama -->
<div class="h" style="left:1826px;top:457px;width:57px;height:20px">...خدما [+]</div>
<div class="c r" style="left:1826px;top:477px;width:53px;height:51px">رمينا</div>
<div class="c r" style="left:1879px;top:477px;width:4px;height:51px"></div>
<!-- Mokha -->
<div class="h" style="left:1686px;top:530px;width:52px;height:20px">...مخا [+]</div>
<div class="c r" style="left:1686px;top:550px;width:52px;height:35px">اخابر</div>
<div class="c k" style="left:1686px;top:585px;width:52px;height:21px"></div>
<div class="h" style="left:1686px;top:608px;width:52px;height:21px">...مح [+]</div>
<div class="c r" style="left:1686px;top:629px;width:52px;height:25px">چكاپا</div>
<div class="c r" style="left:1686px;top:654px;width:35px;height:29px">...طل</div>
<div class="c r" style="left:1721px;top:654px;width:17px;height:15px"></div>
<div class="c g" style="left:1721px;top:669px;width:17px;height:14px"></div>
<!-- Est3 -->
<div class="h" style="left:1741px;top:530px;width:71px;height:20px">... استخراج [+]</div>
<div class="c r" style="left:1741px;top:550px;width:37px;height:31px">كربن</div>
<div class="c r" style="left:1778px;top:550px;width:15px;height:31px"></div>
<div class="c k" style="left:1793px;top:550px;width:17px;height:14px"></div>
<div class="c g" style="left:1793px;top:564px;width:13px;height:17px"></div>
<div class="c r" style="left:1806px;top:564px;width:4px;height:17px"></div>
<div class="h" style="left:1741px;top:583px;width:68px;height:20px">... كاشي و [+]</div>
<div class="c r" style="left:1741px;top:603px;width:46px;height:30px">كترام</div>
<div class="c g" style="left:1787px;top:603px;width:9px;height:15px"></div>
<div class="c r" style="left:1796px;top:603px;width:9px;height:15px"></div>
<div class="c d" style="left:1787px;top:618px;width:9px;height:15px"></div>
<div class="c k" style="left:1796px;top:618px;width:9px;height:8px"></div>
<div class="c r" style="left:1796px;top:626px;width:9px;height:7px"></div>
<div class="h" style="left:1741px;top:637px;width:68px;height:20px">... دباغي، [+]</div>
<div class="c b" style="left:1741px;top:657px;width:68px;height:26px">وملي</div>
<div class="h" style="left:1814px;top:530px;width:69px;height:20px">منسوجات [+]</div>
<div class="c g" style="left:1814px;top:550px;width:33px;height:31px">نبابك</div>
<div class="c r" style="left:1847px;top:550px;width:27px;height:31px">...ن</div>
<div class="c x" style="left:1874px;top:550px;width:9px;height:31px"></div>
<div class="h" style="left:1811px;top:583px;width:42px;height:20px">...خ [+]</div>
<div class="c r" style="left:1811px;top:603px;width:27px;height:37px">افق</div>
<div class="c r" style="left:1838px;top:603px;width:15px;height:37px"></div>
<div class="h" style="left:1856px;top:583px;width:27px;height:20px">[+]...</div>
<div class="c x" style="left:1856px;top:603px;width:27px;height:23px">...ك</div>
<div class="c b" style="left:1856px;top:626px;width:27px;height:14px"></div>
<div class="h" style="left:1811px;top:642px;width:38px;height:20px">... [+]</div>
<div class="c k" style="left:1811px;top:662px;width:38px;height:21px"></div>
<div class="h" style="left:1851px;top:642px;width:32px;height:20px">... [+]</div>
<div class="c r" style="left:1851px;top:662px;width:32px;height:14px"></div>
<div class="c r" style="left:1851px;top:676px;width:32px;height:7px"></div>
</body></html>
